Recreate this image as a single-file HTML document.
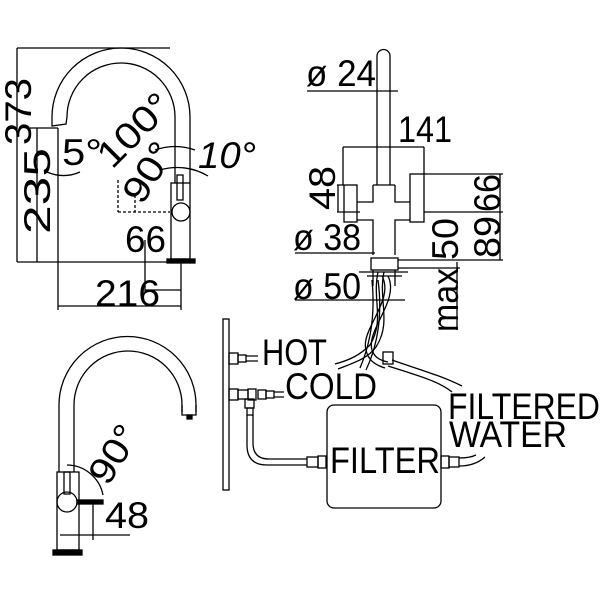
<!DOCTYPE html>
<html><head><style>html,body{margin:0;padding:0;background:#fff}svg{display:block}text{font-family:"Liberation Sans",sans-serif;fill:#000}</style></head><body>
<svg width="601" height="601" viewBox="0 0 601 601" xmlns="http://www.w3.org/2000/svg">
<g fill="none" stroke="#000" stroke-width="1.3">
<path d="M52 117 A69 69 0 0 1 190 117 L190 183"/>
<path d="M67 117 A54 54 0 0 1 175 117 L175 183"/>
<path d="M52 117 L52 126 L66 124 L67 117"/>
<rect x="171" y="183" width="19" height="76"/>
<rect x="167" y="259" width="28" height="4" fill="#000"/>
<circle cx="181" cy="212" r="9"/>
<rect x="177" y="175" width="6" height="25"/>
<path d="M17 48 L170 48 M17 48 L17 262 M17 262 L170 262 M37 128 L37 262 M30 128 L58 128 M58 128 L58 310 M181 262 L181 310 M58 306 L181 306 M145 290 L181 290 M145 240 L145 292"/>
<path d="M118 212 L170 212 M118 180 L118 212 M135 195 L135 212" stroke-dasharray="3 2"/>
<path d="M47 172 A40 40 0 0 0 80 172 M155 150 A60 60 0 0 1 195 150 M160 170 A60 60 0 0 1 208 176"/>
<path d="M377 185 L377 56 A6.5 6.5 0 0 1 390 56 L390 185"/>
<path d="M373 185 L395 185 M373 185 L373 202 L357 202 M357 220 L373 220 L373 255 M395 185 L395 202 L410 202 M410 220 L395 220 L395 255"/>
<rect x="344" y="185" width="13" height="37"/>
<rect x="410" y="174" width="14" height="48"/>
<rect x="371" y="258" width="27" height="12"/>
<path d="M359 272 L408 272 M367 276 L402 276 M373 270 L373 286 M395 270 L395 286"/>
<path d="M307 91 L398 91 M343 147 L424 147 M343 147 L343 185 M424 147 L424 174 M337 185 L344 185 M337 212 L360 212 M338 185 L338 212 M295 253 L375 253 M295 300 L405 300 M424 174 L503 174 M424 212 L503 212 M398 260 L503 260 M500 174 L500 260 M457 262 L457 330 M398 268 L460 268"/>
<path d="M378 272 C372 300 385 320 370 345 C360 355 350 360 335 364 M384 272 C378 300 392 322 376 347 C368 358 356 362 338 369"/>
<path d="M382 276 C395 300 360 330 366 350 C368 360 375 365 385 368 M388 276 C400 300 366 330 372 350 C374 356 378 360 388 362"/>
<path d="M372 280 C375 310 372 340 360 368 M378 280 C382 310 380 340 366 370"/>
<path d="M392 360 C420 370 440 375 462 386 M388 366 C420 376 440 382 452 392"/>
<rect x="383" y="352" width="10" height="12"/>
<rect x="223" y="319" width="6" height="171"/>
<rect x="229" y="353" width="9" height="11"/><rect x="238" y="355" width="8" height="7"/><path d="M246 356 L258 356 M246 361 L258 361"/>
<rect x="229" y="389" width="9" height="11"/><rect x="238" y="390" width="10" height="9"/><rect x="248" y="389" width="8" height="11"/><rect x="258" y="390" width="8" height="9"/><rect x="266" y="391" width="8" height="7"/><path d="M274 392 L284 392 M274 397 L284 397"/>
<rect x="245" y="399" width="9" height="9"/><rect x="247" y="408" width="6" height="7"/>
<path d="M247 415 L247 445 Q247 465 267 465 L307 465 M253 415 L253 443 Q253 459 269 459 L307 459"/>
<rect x="307" y="457" width="11" height="10"/><rect x="318" y="456" width="8" height="12"/>
<rect x="327" y="405" width="114" height="103" rx="7"/>
<rect x="441" y="456" width="8" height="12"/><rect x="449" y="457" width="10" height="10"/>
<path d="M459 458 Q470 458 476 455 M459 466 Q475 466 485 457"/>
<path d="M59 472 L59 405 A68 68 0 0 1 196 405 L196 412"/>
<path d="M74 472 L74 405 A54 54 0 0 1 182 405 L182 412"/>
<path d="M182 405 L182 415 L196 415 L196 405"/>
<rect x="187" y="415" width="5" height="4" fill="#000"/>
<rect x="57" y="472" width="22" height="78"/>
<rect x="53" y="550" width="29" height="5" fill="#000"/>
<circle cx="67" cy="502" r="10"/>
<rect x="64" y="472" width="6" height="22"/>
<rect x="77" y="500" width="26" height="4" fill="#000"/>
<path d="M67 465 A37 37 0 0 1 103 495 M93 503 L93 540 M60 535 L130 535"/>
</g>
<g font-size="37" lengthAdjust="spacingAndGlyphs">
<text transform="translate(31,145) rotate(-90)" textLength="67" lengthAdjust="spacingAndGlyphs">373</text>
<text transform="translate(50,234) rotate(-90)" textLength="86" lengthAdjust="spacingAndGlyphs">235</text>
<text x="62" y="165" textLength="40" lengthAdjust="spacingAndGlyphs">5°</text>
<text transform="translate(112,170) rotate(-45)" textLength="88" lengthAdjust="spacingAndGlyphs">100°</text>
<text transform="translate(142,206) rotate(-58)" textLength="64" lengthAdjust="spacingAndGlyphs">90°</text>
<text x="198" y="168" font-style="italic" textLength="58" lengthAdjust="spacingAndGlyphs">10°</text>
<text x="125" y="252" textLength="41" lengthAdjust="spacingAndGlyphs">66</text>
<text x="95" y="306" textLength="65" lengthAdjust="spacingAndGlyphs">216</text>
<text x="306" y="86" textLength="70" lengthAdjust="spacingAndGlyphs">ø 24</text>
<text x="398" y="142" textLength="54" lengthAdjust="spacingAndGlyphs">141</text>
<text transform="translate(335,210) rotate(-90)" textLength="44" lengthAdjust="spacingAndGlyphs">48</text>
<text x="293" y="250" textLength="68" lengthAdjust="spacingAndGlyphs">ø 38</text>
<text x="293" y="299" textLength="68" lengthAdjust="spacingAndGlyphs">ø 50</text>
<text transform="translate(458,260) rotate(-90)" textLength="42" lengthAdjust="spacingAndGlyphs">50</text>
<text transform="translate(458,332) rotate(-90)" textLength="64" lengthAdjust="spacingAndGlyphs">max</text>
<text transform="translate(500,212) rotate(-90)" textLength="38" lengthAdjust="spacingAndGlyphs">66</text>
<text transform="translate(500,258) rotate(-90)" textLength="42" lengthAdjust="spacingAndGlyphs">89</text>
<text transform="translate(108,487) rotate(-58)" textLength="62" lengthAdjust="spacingAndGlyphs">90°</text>
<text x="105" y="528" textLength="44" lengthAdjust="spacingAndGlyphs">48</text>
</g>
<g font-size="37">
<text x="262" y="365" textLength="65" lengthAdjust="spacingAndGlyphs">HOT</text>
<text x="285" y="399" textLength="92" lengthAdjust="spacingAndGlyphs">COLD</text>
<text x="448" y="419" textLength="152" lengthAdjust="spacingAndGlyphs">FILTERED</text>
<text x="449" y="447" textLength="118" lengthAdjust="spacingAndGlyphs">WATER</text>
<text x="330" y="473" textLength="110" lengthAdjust="spacingAndGlyphs">FILTER</text>
</g>
</svg>
</body></html>
